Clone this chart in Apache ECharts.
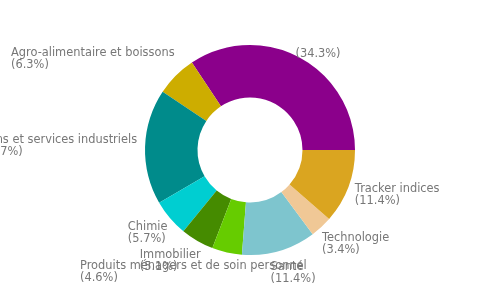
<!DOCTYPE html>
<html><head><meta charset="utf-8">
<script src="https://cdn.jsdelivr.net/npm/echarts@6/dist/echarts.min.js"></script>
<style>html,body{margin:0;padding:0;background:#fff}#c{width:500px;height:300px}</style>
</head><body><div id="c"></div>
<script>
const categories = ['', 'Agro-alimentaire et boissons', 'Biens et services industriels', 'Chimie', 'Immobilier', 'Produits ménagers et de soin personnel', 'Santé', 'Technologie', 'Tracker indices'];
const values = [34.3, 6.3, 17.7, 5.7, 5.1, 4.6, 11.4, 3.4, 11.4];
const colors = ['#8B008B', '#CDAD00', '#008B8B', '#00CED1', '#458B00', '#66CC00', '#7EC5CE', '#F0C896', '#DAA520'];

const chart = echarts.init(document.getElementById('c'), null, {renderer: 'canvas'});
chart.setOption({
  animation: false,
  color: colors,
  series: [{
    type: 'pie',
    radius: ['35%', '70%'],
    center: ['50%', '50%'],
    startAngle: 0,
    clockwise: false,
    avoidLabelOverlap: false,
    data: categories.map((n, i) => ({name: n, value: values[i]})),
    label: {
      overflow: 'none',
      formatter: p => '{t|' + (p.name || ' ') + '}\n{t|(' + p.value + '%)}',
      rich: {t: {color: '#777', fontSize: 11.4, fontFamily: 'DejaVu Sans', lineHeight: 12, align: 'left'}}
    },
    labelLayout: p => {
      const r = p.labelRect;
      const out = {};
      if (r.y < 37) out.y = 37 + r.height / 2;
      if (categories[p.dataIndex] === 'Produits ménagers et de soin personnel') {
        out.align = 'left';
        out.x = 80;
        out.dy = -3;
      }
      return out;
    },
    labelLine: {show: false, length: 23, length2: -20},
    emphasis: {disabled: true}
  }]
});
</script></body></html>
